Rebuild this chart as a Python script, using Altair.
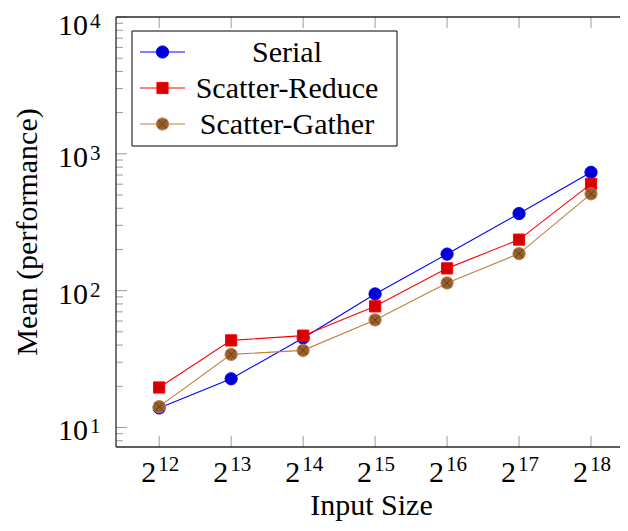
import altair as alt
import pandas as pd

# ---- data ----
exponents = [12, 13, 14, 15, 16, 17, 18]
serial = [13.9, 22.7, 45.1, 94.6, 185, 366, 733]
scatter_reduce = [19.6, 43.3, 46.9, 76.8, 145.5, 236, 603]
scatter_gather = [14.2, 34.2, 36.6, 61.1, 113.8, 186.5, 510]

series_names = ["Serial", "Scatter-Reduce", "Scatter-Gather"]
series_values = [serial, scatter_reduce, scatter_gather]
line_colors = ["#0000ff", "#ff0000", "#bf8040"]
fill_colors = ["#0000d6", "#d60000", "#99602e"]
shapes = ["circle", "square", "circle"]

y_major = [10, 100, 1000, 10000]
y_major_sup = ["1", "2", "3", "4"]
y_minor = [8, 9, 20, 30, 40, 50, 60, 70, 80, 90,
           200, 300, 400, 500, 600, 700, 800, 900,
           2000, 3000, 4000, 5000, 6000, 7000, 8000, 9000]

x_title = "Input Size"
y_title = "Mean (performance)"

FONT = "'Liberation Serif', 'Tinos', 'Times New Roman', 'DejaVu Serif', serif"
W, H = 511, 430
TICK = "#9a9a9a"
FRAME = "#2a2a2a"
OTIMES = "M-0.7,-0.7L0.7,0.7M-0.7,0.7L0.7,-0.7"

xs = alt.Scale(domain=[11.4, 18.5], nice=False, zero=False)
ys = alt.Scale(type="log", domain=[7.2, 10000], nice=False)

one = pd.DataFrame({"k": [0]})
layers = []

def X(field="exp:Q"):
    return alt.X(field, scale=xs, axis=None)

def Y(field="value:Q"):
    return alt.Y(field, scale=ys, axis=None)

# ---- series: line + markers, drawn in order ----
for i, (name, vals) in enumerate(zip(series_names, series_values)):
    df = pd.DataFrame({"exp": exponents, "value": vals, "series": name})
    base = alt.Chart(df)
    layers.append(base.mark_line(strokeWidth=1.1, color=line_colors[i]).encode(x=X(), y=Y()))
    layers.append(base.mark_point(filled=True, opacity=1, strokeWidth=1,
                                  size=150 if shapes[i] == "circle" else 125,
                                  shape=shapes[i], fill=fill_colors[i],
                                  stroke=line_colors[i]).encode(x=X(), y=Y()))
    if name == "Scatter-Gather":
        layers.append(base.mark_point(filled=False, opacity=1, strokeWidth=0.9, size=150,
                                      shape=OTIMES, stroke="#5c3a1a").encode(x=X(), y=Y()))

# ---- ticks (inside, pgfplots style) ----
ymaj_df = pd.DataFrame({"value": y_major, "sup": y_major_sup})
ymin_df = pd.DataFrame({"value": y_minor})
x_df = pd.DataFrame({"exp": exponents, "base": ["2"] * len(exponents),
                     "sup": [str(e) for e in exponents]})

for d, x1, x2 in [(ymaj_df, 0, 11), (ymin_df, 0, 7), (ymaj_df, W - 5, W + 2), (ymin_df, W - 1, W + 2)]:
    layers.append(alt.Chart(d).mark_rule(color=TICK, strokeWidth=1).encode(
        y=Y(), x=alt.value(x1), x2=alt.value(x2)))
for y1, y2 in [(H, H - 11), (0, 11)]:
    layers.append(alt.Chart(x_df).mark_rule(color=TICK, strokeWidth=1).encode(
        x=X(), y=alt.value(y1), y2=alt.value(y2)))

# ---- frame (left, top, bottom; right edge lies beyond the window) ----
frame = alt.Chart(one).mark_rule(color=FRAME, strokeWidth=1.3)
layers.append(frame.encode(x=alt.value(0), y=alt.value(0), y2=alt.value(H)))
layers.append(frame.encode(y=alt.value(0), x=alt.value(0), x2=alt.value(W + 2)))
layers.append(frame.encode(y=alt.value(H), x=alt.value(0), x2=alt.value(W + 2)))

# ---- tick labels with superscripts ----
layers.append(alt.Chart(x_df).mark_text(font=FONT, fontSize=30, align="right",
                                        baseline="alphabetic", dx=-3, color="black").encode(
    x=X(), y=alt.value(H + 35), text="base:N"))
layers.append(alt.Chart(x_df).mark_text(font=FONT, fontSize=21, align="left",
                                        baseline="alphabetic", dx=-1, color="black").encode(
    x=X(), y=alt.value(H + 24), text="sup:N"))
# the top label is nudged down a little so it stays inside the page
for cond, shift in [("datum.value < 10000", 0), ("datum.value >= 10000", 5)]:
    yl = alt.Chart(ymaj_df).transform_filter(cond)
    layers.append(yl.mark_text(font=FONT, fontSize=30, align="right",
                               baseline="alphabetic", dy=13 + shift, color="black").encode(
        y=Y(), x=alt.value(-28), text=alt.value("10")))
    layers.append(yl.mark_text(font=FONT, fontSize=21, align="left",
                               baseline="alphabetic", dy=6 + shift, color="black").encode(
        y=Y(), x=alt.value(-26), text="sup:N"))

# ---- axis titles ----
titles = pd.DataFrame({"xt": [x_title], "yt": [y_title]})
layers.append(alt.Chart(titles).mark_text(font=FONT, fontSize=30, align="center",
                                          baseline="alphabetic", color="black").encode(
    x=alt.value(W / 2), y=alt.value(H + 68), text="xt:N"))
layers.append(alt.Chart(titles).mark_text(font=FONT, fontSize=30, align="center",
                                          baseline="alphabetic", angle=270, color="black").encode(
    x=alt.value(-79), y=alt.value(H / 2), text="yt:N"))

# ---- legend ----
layers.append(alt.Chart(one).mark_rect(fill="white", stroke="black", strokeWidth=1).encode(
    x=alt.value(16), x2=alt.value(281), y=alt.value(14), y2=alt.value(129)))
row_y = [35, 71, 107]
for i, name in enumerate(series_names):
    lb = alt.Chart(pd.DataFrame({"series": [name]}))
    layers.append(lb.mark_rule(color=line_colors[i], strokeWidth=1.1).encode(
        x=alt.value(24), x2=alt.value(69), y=alt.value(row_y[i])))
    layers.append(lb.mark_point(filled=True, opacity=1, strokeWidth=1,
                                size=150 if shapes[i] == "circle" else 125,
                                shape=shapes[i], fill=fill_colors[i], stroke=line_colors[i]).encode(
        x=alt.value(46.5), y=alt.value(row_y[i])))
    if name == "Scatter-Gather":
        layers.append(lb.mark_point(filled=False, opacity=1, strokeWidth=0.9, size=150,
                                    shape=OTIMES, stroke="#5c3a1a").encode(
            x=alt.value(46.5), y=alt.value(row_y[i])))
    layers.append(lb.mark_text(font=FONT, fontSize=30, align="center", baseline="alphabetic",
                               dy=10, color="black").encode(
        x=alt.value(171), y=alt.value(row_y[i]), text="series:N"))

chart = alt.layer(*layers).properties(
    width=W, height=H,
    padding={"left": 108, "top": 9, "right": -7, "bottom": 76},
    autosize=alt.AutoSizeParams(type="none"),
    background="white",
).configure_view(strokeWidth=0)

chart.save("out.html", embed_options={"renderer": "svg", "actions": False})
